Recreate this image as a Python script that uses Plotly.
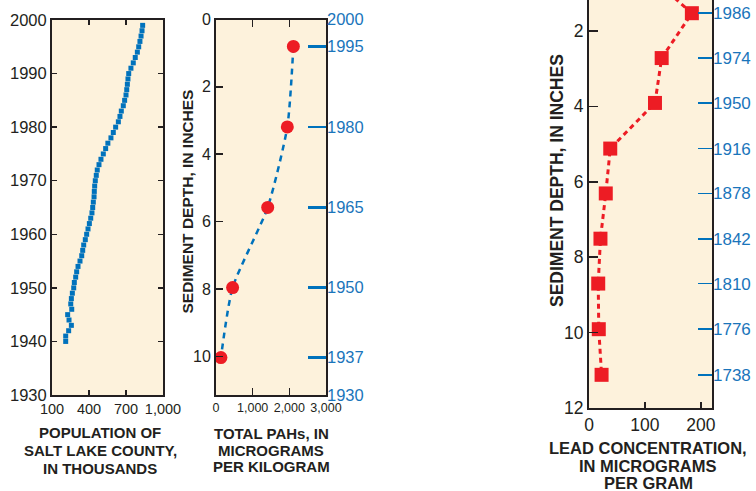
import plotly.graph_objects as go

# ---------------- data ----------------
pop_years = list(range(1940, 2000))
pop_thousands = [211, 211, 235, 257, 238, 227, 260, 252, 257, 265,
                 276, 281, 292, 300, 311, 327, 341, 349, 357, 370,
                 381, 392, 403, 414, 424, 430, 435, 441, 443, 446,
                 451, 459, 467, 481, 497, 516, 535, 553, 578, 597,
                 616, 638, 651, 662, 678, 689, 700, 706, 711, 716,
                 722, 740, 759, 775, 792, 803, 813, 822, 830, 835]

pah_depth = [0.80, 3.19, 5.58, 7.96, 10.04]
pah_value = [2110, 1945, 1410, 453, 134]
pah_year_ticks = [1995, 1980, 1965, 1950, 1937]
pah_year_ends = [2000, 1930]

lead_depth = [0.34, 1.53, 2.72, 3.91, 5.12, 6.31, 7.51, 8.70, 9.91, 11.12]
lead_value = [93, 184, 130, 118, 38, 30, 20.5, 16.5, 17.5, 22.5]
lead_year_depth = [1.53, 2.72, 3.91, 5.12, 6.31, 7.51, 8.70, 9.91, 11.12]
lead_year_text = ["1986", "1974", "1950", "1916", "1878", "1842", "1810", "1776", "1738"]

pop_xticks = [100, 400, 700, 1000]
pah_xticks = [0, 1000, 2000, 3000]
lead_xticks = [0, 100, 200]
year_ticks = [1930, 1940, 1950, 1960, 1970, 1980, 1990, 2000]
depth_ticks_mid = [0, 2, 4, 6, 8, 10]
depth_ticks_right = [2, 4, 6, 8, 10, 12]

# ---------------- style ----------------
W, H = 756, 491
INK = "#231f20"
BLUE = "#0072bc"
BLUE_TXT = "#1a75bb"
RED = "#ed1c24"
CREAM = "#fdf2dc"
FONT = "Liberation Sans, Arial, sans-serif"


def px_x(p):
    return p / W


def px_y(p):
    return 1 - p / H


fig = go.Figure()

# left panel: population
fig.add_trace(go.Scatter(x=pop_thousands, y=pop_years, mode="markers",
                         marker=dict(symbol="square", size=5, color=BLUE,
                                     line=dict(width=0)),
                         xaxis="x", yaxis="y", showlegend=False, hoverinfo="skip"))

# middle panel: PAH
fig.add_trace(go.Scatter(x=pah_value, y=pah_depth, mode="lines",
                         line=dict(color=BLUE, width=2.5, dash="6px,5px", shape="spline",
                                   smoothing=0.6),
                         xaxis="x2", yaxis="y2", showlegend=False, hoverinfo="skip"))
fig.add_trace(go.Scatter(x=pah_value, y=pah_depth, mode="markers",
                         marker=dict(symbol="circle", size=13, color=RED, line=dict(width=0)),
                         xaxis="x2", yaxis="y2", showlegend=False, hoverinfo="skip"))
# invisible helper traces for the year axes
fig.add_trace(go.Scatter(x=[pah_value[0]] * len(pah_year_ticks), y=pah_year_ticks, mode="markers",
                         marker=dict(opacity=0), xaxis="x2", yaxis="y3",
                         showlegend=False, hoverinfo="skip"))
fig.add_trace(go.Scatter(x=[pah_value[0]] * len(pah_year_ends), y=pah_year_ends, mode="markers",
                         marker=dict(opacity=0), xaxis="x2", yaxis="y4",
                         showlegend=False, hoverinfo="skip"))

# right panel: lead
fig.add_trace(go.Scatter(x=lead_value, y=lead_depth, mode="lines",
                         line=dict(color=RED, width=3, dash="5px,4px"),
                         xaxis="x3", yaxis="y5", showlegend=False, hoverinfo="skip"))
fig.add_trace(go.Scatter(x=lead_value, y=lead_depth, mode="markers",
                         marker=dict(symbol="square", size=14, color=RED, line=dict(width=0)),
                         xaxis="x3", yaxis="y5", showlegend=False, hoverinfo="skip"))
fig.add_trace(go.Scatter(x=[lead_value[1]] * len(lead_year_depth), y=lead_year_depth, mode="markers",
                         marker=dict(opacity=0), xaxis="x3", yaxis="y6",
                         showlegend=False, hoverinfo="skip"))

dom_left_x = [px_x(52), px_x(163)]
dom_left_y = [px_y(395), px_y(20)]
dom_mid_x = [px_x(216), px_x(326)]
dom_mid_y = [px_y(395), px_y(19.5)]
dom_right_x = [px_x(589), px_x(712)]
dom_right_y = [px_y(408), 1.0]

common = dict(showgrid=False, zeroline=False, showline=True, linecolor=INK, linewidth=2,
              tickcolor=INK, tickwidth=1.5, ticks="inside", automargin=False)
over = dict(showline=False, showgrid=False, zeroline=False, automargin=False)

fig.update_layout(
    width=W, height=H, margin=dict(l=0, r=0, t=0, b=0, autoexpand=False),
    paper_bgcolor="white", plot_bgcolor=CREAM,
    font=dict(family=FONT, color=INK),
    xaxis=dict(domain=dom_left_x, anchor="y", range=[100, 1000], tickvals=pop_xticks,
               tickformat=",", mirror="ticks", ticklen=5,
               tickfont=dict(size=14.5, color=INK), **common),
    yaxis=dict(domain=dom_left_y, anchor="x", range=[1930, 2000], tickvals=year_ticks,
               mirror="ticks", ticklen=5, tickfont=dict(size=16.5, color=INK), **common),
    xaxis2=dict(domain=dom_mid_x, anchor="y2", range=[0, 3000], tickvals=pah_xticks,
                tickformat=",", mirror="ticks", ticklen=7,
                tickfont=dict(size=12.5, color=INK), **common),
    yaxis2=dict(domain=dom_mid_y, anchor="x2", range=[11.15, 0], tickvals=depth_ticks_mid,
                mirror=True, ticklen=7, tickfont=dict(size=16, color=INK), **common),
    yaxis3=dict(overlaying="y2", anchor="x2", side="right", range=[1930, 2000],
                tickvals=pah_year_ticks, ticks="inside", ticklen=18, tickwidth=2.5,
                tickcolor=BLUE, tickfont=dict(size=16.5, color=BLUE_TXT), **over),
    yaxis4=dict(overlaying="y2", anchor="x2", side="right", range=[1930, 2000],
                tickvals=pah_year_ends, ticks="",
                tickfont=dict(size=16.5, color=BLUE_TXT), **over),
    xaxis3=dict(domain=dom_right_x, anchor="y5", range=[0, 220], tickvals=lead_xticks,
                mirror=False, ticklen=6, tickfont=dict(size=17.5, color=INK), **common),
    yaxis5=dict(domain=dom_right_y, anchor="x3", range=[12, 1.18], tickvals=depth_ticks_right,
                mirror=True, ticklen=9, tickfont=dict(size=17.5, color=INK), **common),
    yaxis6=dict(overlaying="y5", anchor="x3", side="right", range=[12, 1.18],
                tickvals=lead_year_depth, ticktext=lead_year_text, ticks="inside",
                ticklen=14, tickwidth=1.8, tickcolor=BLUE,
                tickfont=dict(size=17, color=BLUE_TXT), **over),
)

ann = []


def title_lines(lines, cx, ys, size):
    for t, yy in zip(lines, ys):
        ann.append(dict(text="<b>%s</b>" % t, x=px_x(cx), y=px_y(yy), xref="paper",
                        yref="paper", xanchor="center", yanchor="middle", showarrow=False,
                        font=dict(size=size, color=INK, family=FONT)))


title_lines(["POPULATION OF", "SALT LAKE COUNTY,", "IN THOUSANDS"], 100,
            [432.7, 450.7, 468.3], 15)
title_lines(["TOTAL PAHs, IN", "MICROGRAMS", "PER KILOGRAM"], 271,
            [433.3, 450, 466.5], 15)
title_lines(["LEAD CONCENTRATION,", "IN MICROGRAMS", "PER GRAM"], 648,
            [448.3, 466, 483.3], 16.5)

ann.append(dict(text="<b>SEDIMENT DEPTH, IN INCHES</b>", x=px_x(187), y=px_y(201.5),
                xref="paper", yref="paper", xanchor="center", yanchor="middle",
                textangle=-90, showarrow=False, font=dict(size=15.5, color=INK, family=FONT)))
ann.append(dict(text="<b>SEDIMENT DEPTH, IN INCHES</b>", x=px_x(557), y=px_y(181),
                xref="paper", yref="paper", xanchor="center", yanchor="middle",
                textangle=-90, showarrow=False, font=dict(size=17.5, color=INK, family=FONT)))

fig.update_layout(annotations=ann)

fig.write_html("out.html", config={"displayModeBar": False, "staticPlot": True},
               post_script="document.body.style.margin='0';document.body.style.overflow='hidden';")
